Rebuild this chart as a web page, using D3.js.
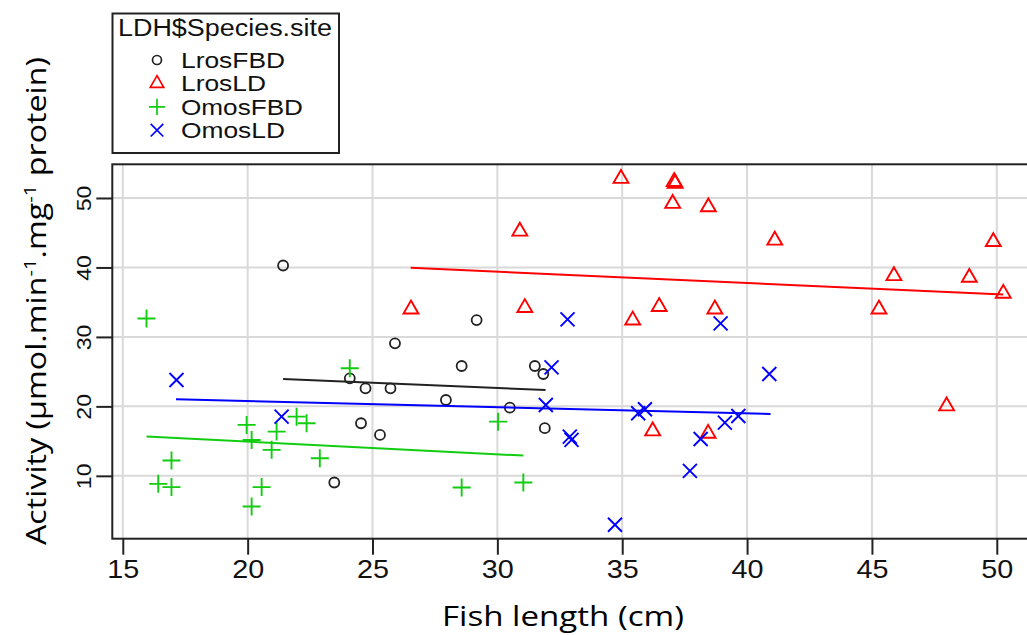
<!DOCTYPE html>
<html>
<head>
<meta charset="utf-8">
<script src="https://cdn.jsdelivr.net/npm/d3@7"></script>
<style>
  html, body { margin: 0; padding: 0; background: #fff; overflow: hidden; }
  svg { display: block; }
</style>
</head>
<body>
<svg id="chart" width="1027" height="635"></svg>
<script>
// Fish length (cm) vs LDH activity, one group per species/site
const groups = ["LrosFBD", "LrosLD", "OmosFBD", "OmosLD"];

const lrosFBD = [
  [21.42, 40.28], [25.9, 29.07], [24.09, 24.04], [24.72, 22.6], [25.72, 22.6],
  [24.54, 17.57], [25.3, 15.89], [23.47, 9.04], [29.17, 32.42], [28.57, 25.81],
  [31.5, 25.81], [31.84, 24.66], [27.94, 20.92], [30.5, 19.82], [31.9, 16.86]
];
const lrosLD = [
  [34.95, 52.8], [37.08, 52.35], [37.12, 52.1], [37.02, 49.2], [38.45, 48.7],
  [30.9, 45.2], [26.54, 34.0], [31.1, 34.2], [35.42, 32.4], [36.48, 34.35],
  [38.71, 34.0], [41.11, 43.9], [49.86, 43.7], [45.88, 38.8], [48.9, 38.55],
  [50.26, 36.25], [45.28, 34.0], [36.22, 16.45], [38.44, 16.1], [47.99, 20.05]
];
const omosFBD = [
  [15.95, 32.66], [24.09, 25.48], [19.96, 17.33], [20.16, 15.17], [21.16, 16.37],
  [20.96, 13.74], [21.96, 18.52], [22.36, 17.57], [22.89, 12.54], [16.95, 12.2],
  [16.42, 8.85], [16.95, 8.38], [20.56, 8.38], [20.16, 5.59], [30.03, 17.8],
  [28.57, 8.32], [31.04, 9.04]
];
const omosLD = [
  [17.15, 23.8], [21.36, 18.52], [32.81, 32.52], [32.17, 25.62], [31.94, 20.2],
  [32.9, 15.65], [32.97, 15.17], [34.71, 2.96], [35.64, 19.01], [35.91, 19.58],
  [37.71, 10.72], [38.14, 15.3], [39.11, 17.66], [39.65, 18.62], [40.89, 24.66],
  [38.94, 31.95]
];

// Fitted lines per group: [x start, y start, x end, y end]
const fitLrosFBD = [21.42, 23.94, 31.93, 22.36];
const fitLrosLD  = [26.53, 39.94, 50.26, 36.11];
const fitOmosFBD = [15.95, 15.65, 31.04, 12.92];
const fitOmosLD  = [17.13, 21.02, 40.94, 18.91];

const xTicks = [15, 20, 25, 30, 35, 40, 45, 50];
const yTicks = [10, 20, 30, 40, 50];
const xDomain = [14.58, 51.63];
const yDomain = [0.95, 54.85];

const colors = { LrosFBD: "#222222", LrosLD: "#ff0000", OmosFBD: "#11cc11", OmosLD: "#0000ff" };
const shapes = { LrosFBD: "circle", LrosLD: "triangle", OmosFBD: "plus", OmosLD: "cross" };
const pointsBy = { LrosFBD: lrosFBD, LrosLD: lrosLD, OmosFBD: omosFBD, OmosLD: omosLD };
const fitsBy = { LrosFBD: fitLrosFBD, LrosLD: fitLrosLD, OmosFBD: fitOmosFBD, OmosLD: fitOmosLD };

const svg = d3.select("#chart");
const plot = { left: 112.3, top: 164.3, right: 1037.5, bottom: 538.7 };

const x = d3.scaleLinear().domain(xDomain).range([plot.left, plot.right]);
const y = d3.scaleLinear().domain(yDomain).range([plot.bottom, plot.top]);

svg.append("rect").attr("width", 1027).attr("height", 635).attr("fill", "#fff");

// grid
const grid = svg.append("g").attr("stroke", "#d9d9d9").attr("stroke-width", 2);
grid.selectAll("line.v").data(xTicks).join("line")
  .attr("x1", d => x(d)).attr("x2", d => x(d))
  .attr("y1", plot.top).attr("y2", plot.bottom);
grid.selectAll("line.h").data(yTicks).join("line")
  .attr("y1", d => y(d)).attr("y2", d => y(d))
  .attr("x1", plot.left).attr("x2", plot.right);

// symbol path generators
function symbolPath(shape) {
  switch (shape) {
    case "circle": return d3.symbol().type(d3.symbolCircle).size(Math.PI * 5 * 5)();
    case "triangle": {
      const r = 8.6;
      return `M0,${-r}L${r * 0.866},${r / 2}L${-r * 0.866},${r / 2}Z`;
    }
    case "plus": {
      const a = 9;
      return `M${-a},0H${a}M0,${-a}V${a}`;
    }
    case "cross": {
      const a = 7;
      return `M${-a},${-a}L${a},${a}M${-a},${a}L${a},${-a}`;
    }
  }
}

// points
groups.forEach(g => {
  svg.append("g")
    .selectAll("path")
    .data(pointsBy[g])
    .join("path")
    .attr("d", symbolPath(shapes[g]))
    .attr("transform", d => `translate(${x(d[0])},${y(d[1])})`)
    .attr("fill", "none")
    .attr("stroke", colors[g])
    .attr("stroke-width", shapes[g] === "circle" ? 1.8 : 1.9);
});

// fitted lines
groups.forEach(g => {
  const f = fitsBy[g];
  svg.append("line")
    .attr("x1", x(f[0])).attr("y1", y(f[1]))
    .attr("x2", x(f[2])).attr("y2", y(f[3]))
    .attr("stroke", colors[g])
    .attr("stroke-width", 2);
});

// plot frame
svg.append("rect")
  .attr("x", plot.left).attr("y", plot.top)
  .attr("width", plot.right - plot.left).attr("height", plot.bottom - plot.top)
  .attr("fill", "none").attr("stroke", "#222").attr("stroke-width", 2);

// axes
const xAxis = svg.append("g")
  .attr("transform", `translate(0,${plot.bottom})`)
  .call(d3.axisBottom(x).tickValues(xTicks).tickSize(16).tickFormat(d3.format("d")));
xAxis.select(".domain").remove();
xAxis.selectAll(".tick line").attr("stroke", "#222").attr("stroke-width", 2);
xAxis.selectAll(".tick text")
  .attr("y", 39.5).attr("dy", 0)
  .attr("transform", "scale(1.15,1)")
  .attr("fill", "#111")
  .style("font-family", "'Liberation Sans', Arial, sans-serif")
  .style("font-size", "25px");

const yAxis = svg.append("g")
  .attr("transform", `translate(${plot.left},0)`)
  .call(d3.axisLeft(y).tickValues(yTicks).tickSize(16).tickFormat(d3.format("d")));
yAxis.select(".domain").remove();
yAxis.selectAll(".tick line").attr("stroke", "#222").attr("stroke-width", 2);
yAxis.selectAll(".tick text")
  .attr("x", 0).attr("y", 0).attr("dy", 0)
  .attr("text-anchor", "middle")
  .attr("transform", "translate(-21,0) rotate(-90) scale(1.1,1)")
  .attr("fill", "#111")
  .style("font-family", "'Liberation Sans', Arial, sans-serif")
  .style("font-size", "21px");

// axis titles
svg.append("text")
  .attr("x", 563).attr("y", 626)
  .attr("text-anchor", "middle")
  .attr("textLength", 242).attr("lengthAdjust", "spacingAndGlyphs")
  .style("font-family", "'Open Sans', sans-serif")
  .style("font-size", "27px")
  .attr("fill", "#000")
  .text("Fish length (cm)");

const yTitle = svg.append("text")
  .attr("transform", "translate(46,301) rotate(-90)")
  .attr("text-anchor", "middle")
  .attr("textLength", 488).attr("lengthAdjust", "spacingAndGlyphs")
  .style("font-family", "'Open Sans', sans-serif")
  .style("font-size", "27px")
  .attr("fill", "#000");
yTitle.append("tspan").text("Activity (µmol.min");
yTitle.append("tspan").attr("dy", -10).style("font-size", "17px").text("-1");
yTitle.append("tspan").attr("dy", 10).text(".mg");
yTitle.append("tspan").attr("dy", -10).style("font-size", "17px").text("-1");
yTitle.append("tspan").attr("dy", 10).text(" protein)");

// legend
const legend = svg.append("g");
legend.append("rect")
  .attr("x", 112.5).attr("y", 13.5).attr("width", 226.5).attr("height", 139.5)
  .attr("fill", "#fff").attr("stroke", "#222").attr("stroke-width", 2);
legend.append("text")
  .attr("x", 118).attr("y", 36)
  .attr("textLength", 214).attr("lengthAdjust", "spacingAndGlyphs")
  .style("font-family", "'Liberation Sans', Arial, sans-serif")
  .style("font-size", "23px")
  .attr("fill", "#111")
  .text("LDH$Species.site");

const legendWidths = { LrosFBD: 104, LrosLD: 85, OmosFBD: 122, OmosLD: 104 };
groups.forEach((g, i) => {
  const cy = 60 + i * 23.4;
  legend.append("path")
    .attr("d", symbolPath(shapes[g]))
    .attr("transform", `translate(157,${cy}) scale(${shapes[g] === "circle" ? 0.9 : 0.9})`)
    .attr("fill", "none")
    .attr("stroke", colors[g])
    .attr("stroke-width", 1.9);
  legend.append("text")
    .attr("x", 181).attr("y", cy + 8)
    .attr("textLength", legendWidths[g]).attr("lengthAdjust", "spacingAndGlyphs")
    .style("font-family", "'Liberation Sans', Arial, sans-serif")
    .style("font-size", "22px")
    .attr("fill", "#111")
    .text(g);
});
</script>
</body>
</html>
